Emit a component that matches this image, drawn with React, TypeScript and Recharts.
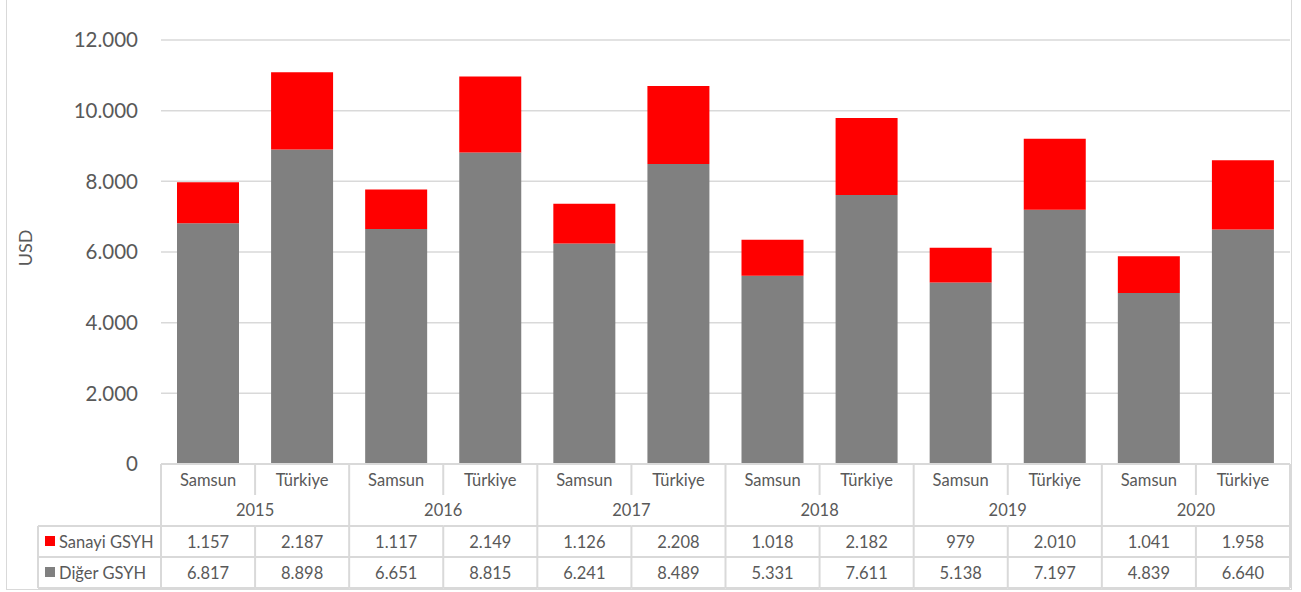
import React from 'react';
import { BarChart, Bar, XAxis, YAxis, CartesianGrid } from 'recharts';

const categories = ['Samsun', 'Türkiye', 'Samsun', 'Türkiye', 'Samsun', 'Türkiye', 'Samsun', 'Türkiye', 'Samsun', 'Türkiye', 'Samsun', 'Türkiye'];
const years = ['2015', '2016', '2017', '2018', '2019', '2020'];
const sanayiGSYH = [1157, 2187, 1117, 2149, 1126, 2208, 1018, 2182, 979, 2010, 1041, 1958];
const digerGSYH = [6817, 8898, 6651, 8815, 6241, 8489, 5331, 7611, 5138, 7197, 4839, 6640];
const seriesNames = ['Sanayi GSYH', 'Diğer GSYH'];
const yTicks = [0, 2000, 4000, 6000, 8000, 10000, 12000];
const yAxisTitle = 'USD';

const data = categories.map((c, i) => ({
  key: `${years[Math.floor(i / 2)]}-${c}`,
  category: c,
  year: years[Math.floor(i / 2)],
  sanayi: sanayiGSYH[i],
  diger: digerGSYH[i],
}));

const W = 1301;
const H = 592;
const Y_AXIS_W = 161;
const M_RIGHT = 11;
const M_TOP = 40;
const X_AXIS_H = 128;
const BAND = (W - Y_AXIS_W - M_RIGHT) / categories.length;
const TABLE_LEFT = 38;

const RED = '#FF0000';
const GRAY = '#808080';
const LINE = '#d9d9d9';
const TXT = '#595959';
const FONT = 'Lato, Calibri, "Open Sans", sans-serif';
const FS = 16.5;

const fmt = (v: number) => String(v).replace(/\B(?=(\d{3})+(?!\d))/g, '.');

const TableTick = (props: any) => {
  const { x, y, payload } = props;
  const i: number = payload?.index ?? props.index ?? 0;
  const lx = x - BAND / 2;
  const rx = x + BAND / 2;
  const top = y;
  const rowSplit = top + 31;
  const r1 = top + 62;
  const r2 = top + 93;
  const r3 = top + 124;
  const d = data[i];
  const isGroupStart = i % 2 === 0;
  const isLast = i === data.length - 1;
  return (
    <g fontFamily={FONT} fill={TXT}>
      <text x={x} y={top + 16} textAnchor="middle" dominantBaseline="central" fontSize={FS} fill={TXT}>{d.category}</text>
      {!isGroupStart && (
        <text x={lx} y={top + 46} textAnchor="middle" dominantBaseline="central" fontSize={FS} fill={TXT}>{d.year}</text>
      )}
      <text x={x} y={r1 + 15.5} textAnchor="middle" dominantBaseline="central" fontSize={FS} fill={TXT}>{fmt(d.sanayi)}</text>
      <text x={x} y={r2 + 15.5} textAnchor="middle" dominantBaseline="central" fontSize={FS} fill={TXT}>{fmt(d.diger)}</text>
      {isGroupStart ? (
        <line x1={lx} x2={lx} y1={top} y2={r3} stroke={LINE} strokeWidth={2} />
      ) : (
        <g>
          <line x1={lx} x2={lx} y1={top} y2={rowSplit} stroke={LINE} strokeWidth={2} />
          <line x1={lx} x2={lx} y1={r1} y2={r3} stroke={LINE} strokeWidth={2} />
        </g>
      )}
      {isLast && <line x1={rx} x2={rx} y1={top} y2={r3} stroke={LINE} strokeWidth={2} />}
      <line x1={lx} x2={rx} y1={r1} y2={r1} stroke={LINE} strokeWidth={2} />
      <line x1={lx} x2={rx} y1={r2} y2={r2} stroke={LINE} strokeWidth={2} />
      <line x1={lx} x2={rx} y1={r3} y2={r3} stroke={LINE} strokeWidth={2} />
      {i === 0 && (
        <g>
          <line x1={TABLE_LEFT} x2={lx} y1={r1} y2={r1} stroke={LINE} strokeWidth={2} />
          <line x1={TABLE_LEFT} x2={lx} y1={r2} y2={r2} stroke={LINE} strokeWidth={2} />
          <line x1={TABLE_LEFT} x2={lx} y1={r3} y2={r3} stroke={LINE} strokeWidth={2} />
          <line x1={TABLE_LEFT} x2={TABLE_LEFT} y1={r1} y2={r3} stroke={LINE} strokeWidth={2} />
          <rect x={TABLE_LEFT + 7} y={r1 + 10} width={10} height={10} fill={RED} />
          <text x={TABLE_LEFT + 21} y={r1 + 15.5} textAnchor="start" dominantBaseline="central" fontSize={FS} fill={TXT}>{seriesNames[0]}</text>
          <rect x={TABLE_LEFT + 7} y={r2 + 10} width={10} height={10} fill={GRAY} />
          <text x={TABLE_LEFT + 21} y={r2 + 15.5} textAnchor="start" dominantBaseline="central" fontSize={FS} fill={TXT}>{seriesNames[1]}</text>
        </g>
      )}
    </g>
  );
};

export default function App() {
  return (
    <div style={{ position: 'absolute', left: 0, top: 0, width: W, height: H, background: '#fff' }}>
      <div
        style={{
          position: 'absolute',
          left: 6,
          top: -2,
          width: 1286,
          height: 592,
          border: `1px solid ${LINE}`,
          boxSizing: 'border-box',
        }}
      />
      <div style={{ position: 'absolute', left: 0, top: 0 }}>
        <BarChart
          width={W}
          height={H}
          data={data}
          margin={{ top: M_TOP, right: M_RIGHT, bottom: 0, left: 0 }}
        >
          <CartesianGrid vertical={false} stroke={LINE} strokeWidth={1.5} />
          <YAxis
            width={Y_AXIS_W}
            domain={[0, 12000]}
            ticks={yTicks}
            interval={0}
            axisLine={false}
            tickLine={false}
            tickSize={0}
            tickMargin={23}
            tickFormatter={(v: number) => fmt(v)}
            tick={{ fill: TXT, fontSize: 20.5, fontFamily: FONT }}
          />
          <XAxis
            dataKey="key"
            height={X_AXIS_H}
            interval={0}
            tickLine={false}
            tickSize={0}
            tickMargin={0}
            axisLine={{ stroke: LINE, strokeWidth: 2 }}
            tick={<TableTick />}
          />
          <Bar dataKey="diger" stackId="a" fill={GRAY} barSize={62} isAnimationActive={false} name={seriesNames[1]} />
          <Bar dataKey="sanayi" stackId="a" fill={RED} barSize={62} isAnimationActive={false} name={seriesNames[0]} />
        </BarChart>
      </div>
      <svg
        width={60}
        height={120}
        style={{ position: 'absolute', left: 0, top: 190, overflow: 'visible' }}
      >
        <text
          x={25}
          y={58}
          transform="rotate(-90 25 58)"
          textAnchor="middle"
          dominantBaseline="central"
          fontSize={18}
          fontFamily={FONT}
          fill={TXT}
        >
          {yAxisTitle}
        </text>
      </svg>
    </div>
  );
}
